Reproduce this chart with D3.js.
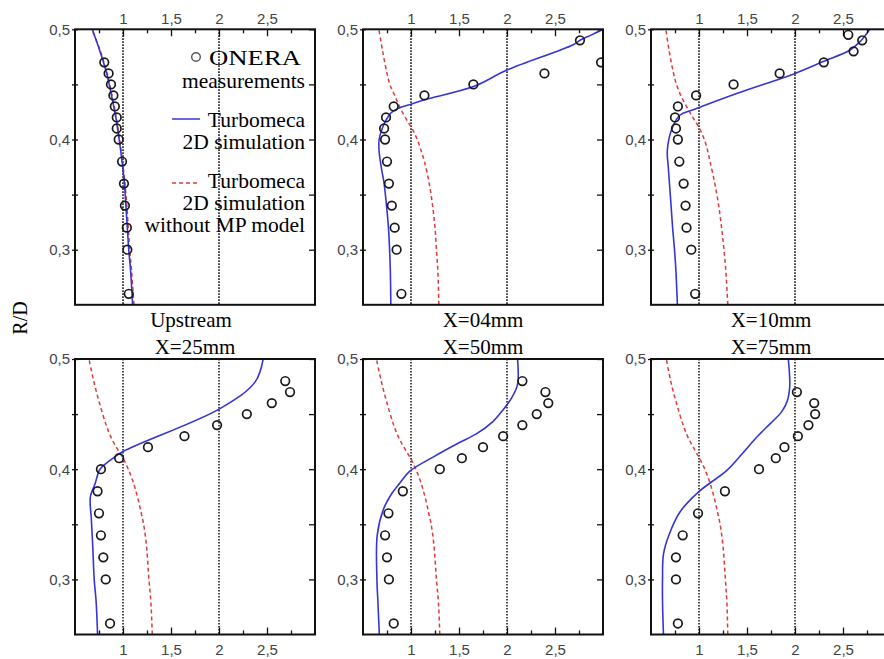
<!DOCTYPE html>
<html><head><meta charset="utf-8">
<script src="https://cdn.jsdelivr.net/npm/d3@7"></script>
<style>
html,body{margin:0;padding:0;background:#fff;}
svg{display:block;}
</style></head><body>
<svg id="chart" width="884" height="659"></svg>
<script>
// Velocity profiles: normalised velocity (x) against R/D (y) at six stations
const panelTitles = ["Upstream", "X=04mm", "X=10mm", "X=25mm", "X=50mm", "X=75mm"];
const xTickValues = [0.75, 1, 1.25, 1.5, 1.75, 2, 2.25, 2.5, 2.75];
const xLabelValues = [1, 1.5, 2, 2.5];
const yTickValues = [0.3, 0.35, 0.4, 0.45, 0.5];
const yLabelValues = [0.3, 0.4, 0.5];
const refLines = [1, 2];

// ONERA measurements [velocity, R/D]
const measUpstream = [[0.805,0.47],[0.85,0.46],[0.875,0.45],[0.90,0.44],[0.915,0.43],[0.935,0.42],[0.935,0.41],[0.955,0.40],[0.99,0.38],[1.01,0.36],[1.02,0.34],[1.04,0.32],[1.045,0.30],[1.06,0.26]];
const meas04 = [[2.76,0.49],[2.98,0.47],[2.39,0.46],[1.65,0.45],[1.14,0.44],[0.82,0.43],[0.74,0.42],[0.72,0.41],[0.73,0.40],[0.75,0.38],[0.77,0.36],[0.80,0.34],[0.83,0.32],[0.85,0.30],[0.90,0.26]];
const meas10 = [[2.555,0.495],[2.70,0.49],[2.61,0.48],[2.30,0.47],[1.84,0.46],[1.36,0.45],[0.97,0.44],[0.78,0.43],[0.75,0.42],[0.76,0.41],[0.78,0.40],[0.795,0.38],[0.84,0.36],[0.86,0.34],[0.87,0.32],[0.92,0.30],[0.96,0.26]];
const meas25 = [[2.69,0.48],[2.74,0.47],[2.55,0.46],[2.29,0.45],[1.98,0.44],[1.64,0.43],[1.26,0.42],[0.96,0.41],[0.77,0.40],[0.735,0.38],[0.75,0.36],[0.77,0.34],[0.795,0.32],[0.82,0.30],[0.865,0.26]];
const meas50 = [[2.16,0.48],[2.40,0.47],[2.43,0.46],[2.31,0.45],[2.16,0.44],[1.96,0.43],[1.75,0.42],[1.53,0.41],[1.30,0.40],[0.915,0.38],[0.765,0.36],[0.73,0.34],[0.75,0.32],[0.77,0.30],[0.82,0.26]];
const meas75 = [[2.02,0.47],[2.20,0.46],[2.21,0.45],[2.14,0.44],[2.03,0.43],[1.89,0.42],[1.80,0.41],[1.625,0.40],[1.27,0.38],[0.99,0.36],[0.83,0.34],[0.76,0.32],[0.76,0.30],[0.78,0.26]];

// Turbomeca 2D simulation
const simUpstream = [[0.68,0.5],[0.76,0.48],[0.83,0.46],[0.88,0.44],[0.925,0.42],[0.96,0.40],[0.99,0.38],[1.015,0.36],[1.03,0.34],[1.045,0.32],[1.06,0.30],[1.08,0.28],[1.10,0.25]];
const sim04 = [[0.79,0.25],[0.785,0.28],[0.777,0.30],[0.765,0.32],[0.745,0.34],[0.72,0.36],[0.69,0.375],[0.667,0.39],[0.668,0.40],[0.70,0.41],[0.74,0.4175],[0.79,0.424],[0.86,0.428],[0.92,0.430],[1.0,0.432],[1.14,0.436],[1.65,0.448],[2.0,0.463],[2.69,0.486],[2.77,0.4905],[2.87,0.4945],[3.0,0.5]];
const sim10 = [[0.775,0.25],[0.76,0.28],[0.745,0.30],[0.725,0.32],[0.705,0.345],[0.68,0.375],[0.67,0.39],[0.715,0.409],[0.80,0.422],[0.94,0.427],[1.4,0.442],[2.0,0.46],[2.30,0.471],[2.57,0.481],[2.68,0.489],[2.78,0.5]];
const sim25 = [[0.735,0.25],[0.72,0.28],[0.70,0.30],[0.685,0.33],[0.67,0.355],[0.66,0.375],[0.71,0.387],[0.76,0.40],[0.865,0.408],[1.0,0.416],[2.01,0.455],[2.375,0.479],[2.46,0.5]];
const sim50 = [[0.67,0.25],[0.655,0.28],[0.645,0.30],[0.648,0.34],[0.71,0.363],[0.80,0.378],[0.88,0.387],[0.985,0.398],[1.23,0.411],[1.50,0.424],[1.68,0.432],[1.85,0.443],[1.96,0.454],[2.05,0.465],[2.11,0.477],[2.11,0.5]];
const sim75 = [[0.63,0.25],[0.62,0.28],[0.62,0.30],[0.63,0.323],[0.69,0.341],[0.80,0.361],[0.99,0.379],[1.29,0.399],[1.45,0.414],[1.60,0.429],[1.75,0.442],[1.86,0.452],[1.92,0.462],[1.945,0.475],[1.94,0.49],[1.93,0.5]];

// Turbomeca 2D simulation without MP model
const noMpUpstream = [[0.675,0.5],[0.765,0.48],[0.835,0.46],[0.885,0.44],[0.93,0.42],[0.965,0.40],[0.995,0.38],[1.02,0.36],[1.04,0.34],[1.055,0.32],[1.07,0.30],[1.09,0.28],[1.115,0.25]];
const noMp04 = [[0.665,0.5],[0.705,0.48],[0.75,0.46],[0.78,0.45],[0.83,0.44],[0.88,0.43],[0.94,0.42],[1.01,0.41],[1.065,0.40],[1.105,0.39],[1.14,0.38],[1.19,0.36],[1.225,0.34],[1.25,0.32],[1.265,0.30],[1.28,0.28],[1.29,0.25]];
const noMp10 = [[0.655,0.5],[0.69,0.48],[0.735,0.46],[0.765,0.45],[0.81,0.44],[0.87,0.43],[0.935,0.42],[1.0,0.411],[1.055,0.40],[1.09,0.39],[1.115,0.38],[1.165,0.36],[1.205,0.34],[1.235,0.32],[1.26,0.30],[1.28,0.28],[1.30,0.25]];
const noMp25 = [[0.645,0.5],[0.695,0.48],[0.755,0.46],[0.825,0.44],[0.87,0.43],[0.93,0.42],[1.0,0.41],[1.055,0.40],[1.10,0.39],[1.135,0.38],[1.165,0.37],[1.19,0.36],[1.215,0.35],[1.245,0.33],[1.27,0.30],[1.29,0.28],[1.305,0.25]];
const noMp50 = [[0.64,0.5],[0.69,0.48],[0.75,0.46],[0.82,0.44],[0.865,0.43],[0.925,0.42],[0.995,0.41],[1.05,0.40],[1.095,0.39],[1.13,0.38],[1.16,0.37],[1.185,0.36],[1.21,0.35],[1.24,0.33],[1.265,0.30],[1.285,0.28],[1.30,0.25]];
const noMp75 = [[0.66,0.5],[0.705,0.48],[0.765,0.46],[0.835,0.44],[0.88,0.43],[0.94,0.42],[1.005,0.41],[1.06,0.40],[1.105,0.39],[1.14,0.38],[1.17,0.37],[1.195,0.36],[1.22,0.35],[1.25,0.33],[1.275,0.30],[1.29,0.28],[1.30,0.25]];

const measAll = [measUpstream, meas04, meas10, meas25, meas50, meas75];
const simAll = [simUpstream, sim04, sim10, sim25, sim50, sim75];
const noMpAll = [noMpUpstream, noMp04, noMp10, noMp25, noMp50, noMp75];

const svg = d3.select("#chart");
const W = 240, H = 275.5;
const lefts = [75, 363, 651];
const tops = [29.3, 359];
const serif = "'Liberation Serif', 'Times New Roman', serif";
const sans = "'Liberation Sans', Arial, sans-serif";
const blue = "#3535d6", red = "#e23a3a";
const comma = d => String(d).replace(".", ",");

const x = d3.scaleLinear().domain([0.5, 3]).range([0, W]);
const y = d3.scaleLinear().domain([0.25, 0.5]).range([H, 0]);
const line = d3.line().x(d => x(d[0])).y(d => y(d[1])).curve(d3.curveCatmullRom.alpha(0.5));

const defs = svg.append("defs");
defs.append("clipPath").attr("id", "plotClip")
  .append("rect").attr("x", 0).attr("y", 0).attr("width", W).attr("height", H);

function styleText(sel) {
  sel.selectAll("text").attr("font-family", sans).attr("font-size", 15).attr("fill", "#444");
}

panelTitles.forEach((title, i) => {
  const row = Math.floor(i / 3), col = i % 3;
  const g = svg.append("g").attr("transform", `translate(${lefts[col]},${tops[row]})`);

  // dotted reference lines
  g.selectAll(".ref").data(refLines).join("line")
    .attr("x1", d => x(d)).attr("x2", d => x(d)).attr("y1", 0).attr("y2", H)
    .attr("stroke", "#111").attr("stroke-width", 1.5).attr("stroke-dasharray", "1.6,1.4");

  const plot = g.append("g").attr("clip-path", "url(#plotClip)");

  plot.append("path").datum(noMpAll[i].slice().sort((a, b) => a[1] - b[1]))
    .attr("d", line).attr("fill", "none").attr("stroke", red)
    .attr("stroke-width", 1.5).attr("stroke-dasharray", "4,3");

  plot.append("path").datum(simAll[i].slice().sort((a, b) => a[1] - b[1]))
    .attr("d", line).attr("fill", "none").attr("stroke", blue).attr("stroke-width", 1.6);

  plot.selectAll("circle").data(measAll[i]).join("circle")
    .attr("cx", d => x(d[0])).attr("cy", d => y(d[1])).attr("r", 4.3)
    .attr("fill", "none").attr("stroke", "#1a1a1a").attr("stroke-width", 1.7);

  // left axis: ticks cross the frame
  const gl = g.append("g").call(d3.axisLeft(y).tickValues(yTickValues)
    .tickFormat(d => yLabelValues.includes(d) ? comma(d) : "")
    .tickSizeInner(3).tickSizeOuter(0).tickPadding(2));
  gl.select(".domain").remove();
  gl.selectAll(".tick line").attr("x1", 3).attr("stroke", "#111").attr("stroke-width", 1.3);
  styleText(gl);

  // right axis: inward ticks
  const gr = g.append("g").attr("transform", `translate(${W},0)`)
    .call(d3.axisRight(y).tickValues(yTickValues).tickFormat("").tickSizeInner(-6).tickSizeOuter(0));
  gr.select(".domain").remove();
  gr.selectAll(".tick line").attr("stroke", "#111").attr("stroke-width", 1.3);

  // horizontal axis: on top for the upper row, at the bottom for the lower row
  const xAxis = (row === 0 ? d3.axisTop(x) : d3.axisBottom(x))
    .tickValues(xTickValues)
    .tickFormat(d => xLabelValues.includes(d) ? comma(d) : "")
    .tickSizeInner(-7).tickSizeOuter(0).tickPadding(row === 0 ? 5 : 10);
  const gx = g.append("g").attr("transform", `translate(0,${row === 0 ? 0 : H})`).call(xAxis);
  gx.select(".domain").remove();
  gx.selectAll(".tick line")
    .attr("y2", d => (row === 0 ? 1 : -1) * (xLabelValues.includes(d) ? 7 : 4))
    .attr("stroke", "#111").attr("stroke-width", 1.3);
  styleText(gx);

  // frame
  g.append("rect").attr("width", W).attr("height", H)
    .attr("fill", "none").attr("stroke", "#111").attr("stroke-width", 2);

  // station title between the rows
  svg.append("text")
    .attr("x", lefts[col] + W / 2 - (i === 0 ? 4 : 0)).attr("y", row === 0 ? 327 : 354)
    .attr("text-anchor", "middle").attr("font-family", serif).attr("font-size", 21)
    .attr("fill", "#000").text(title);
});

// legend inside the first panel
const legend = svg.append("g").attr("font-family", serif).attr("font-size", 21.5).attr("fill", "#000");
legend.append("circle").attr("cx", 196).attr("cy", 57).attr("r", 4.3)
  .attr("fill", "#fff").attr("stroke", "#555").attr("stroke-width", 1.4);
legend.append("line").attr("x1", 172).attr("x2", 200).attr("y1", 119).attr("y2", 119)
  .attr("stroke", blue).attr("stroke-width", 1.5);
legend.append("line").attr("x1", 172).attr("x2", 200).attr("y1", 183).attr("y2", 183)
  .attr("stroke", red).attr("stroke-width", 1.5).attr("stroke-dasharray", "4,3");
const legendLines = [
  ["ONERA", 65], ["measurements", 88],
  ["Turbomeca", 127], ["2D simulation", 149],
  ["Turbomeca", 188], ["2D simulation", 210], ["without MP model", 232]
];
legend.selectAll("text").data(legendLines).join("text")
  .attr("x", 305).attr("y", d => d[1]).attr("text-anchor", "end").text(d => d[0]);
// the heading word is set wider than the rest
legend.selectAll("text").filter(d => d[0] === "ONERA")
  .attr("x", 301).attr("textLength", 92).attr("lengthAdjust", "spacingAndGlyphs");

// y-axis title
svg.append("text").attr("transform", "translate(27,318) rotate(-90)")
  .attr("text-anchor", "middle").attr("font-family", serif).attr("font-size", 20)
  .attr("fill", "#000").text("R/D");
</script>
</body></html>
